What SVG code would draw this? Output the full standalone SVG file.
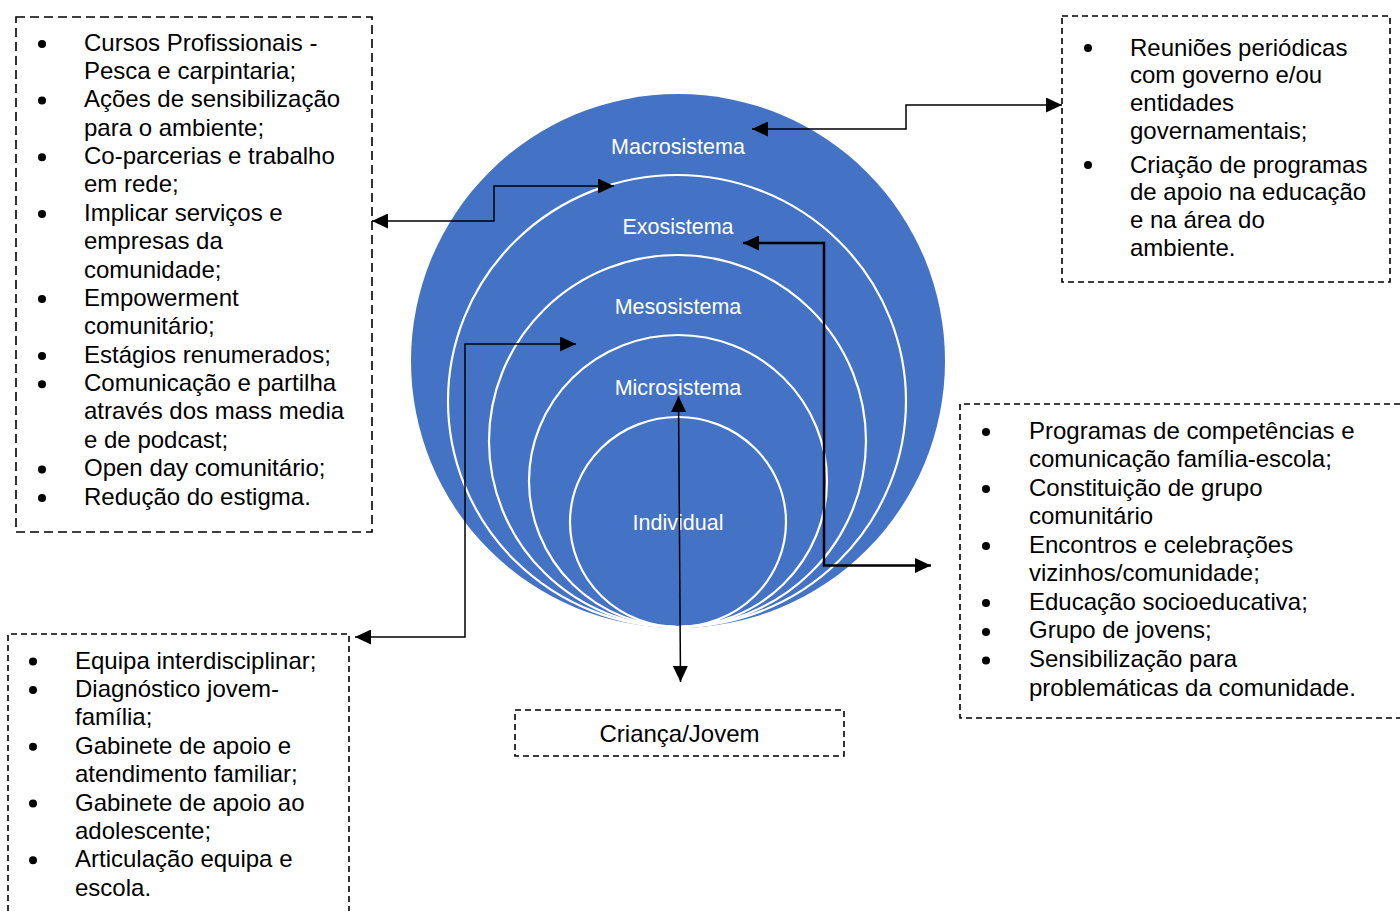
<svg xmlns="http://www.w3.org/2000/svg" width="1400" height="911" viewBox="0 0 1400 911">
<style>
.box{fill:none;stroke:#000;stroke-width:1.6;stroke-dasharray:9 5}
.t{font-family:"Liberation Sans",Arial,sans-serif;font-size:24px;fill:#000}
.lbl{font-family:"Liberation Sans",Arial,sans-serif;font-size:21.5px;fill:#fff;text-anchor:middle}
.ring{fill:none;stroke:#fff;stroke-width:2.2}
.c{fill:none;stroke:#000;stroke-width:1.5}
.c2{fill:none;stroke:#000;stroke-width:2.5}
</style>
<defs>
<marker id="ah" markerUnits="userSpaceOnUse" markerWidth="17" markerHeight="15" refX="16" refY="7.5" orient="auto-start-reverse">
<path d="M0,0 L16,7.5 L0,15 z" fill="#000"/>
</marker>
</defs>
<rect width="1400" height="911" fill="#fff"/>

<g id="circles">
<circle cx="678" cy="361" r="267" fill="#4472C4"/>
<ellipse class="ring" cx="677" cy="401" rx="229" ry="226"/>
<ellipse class="ring" cx="677.5" cy="441" rx="188.5" ry="186"/>
<ellipse class="ring" cx="678" cy="481" rx="149" ry="146"/>
<ellipse class="ring" cx="678" cy="522" rx="108" ry="105"/>
<text class="lbl" x="678" y="154">Macrosistema</text>
<text class="lbl" x="678" y="234">Exosistema</text>
<text class="lbl" x="678" y="314">Mesosistema</text>
<text class="lbl" x="678" y="395">Microsistema</text>
<text class="lbl" x="678" y="530">Individual</text>
</g>

<g id="box-exo-left">
<rect class="box" x="16" y="17" width="356" height="515"/>
<g fill="#000">
<circle cx="42" cy="44" r="4"/><circle cx="42" cy="100.5" r="4"/><circle cx="42" cy="157.3" r="4"/><circle cx="42" cy="214" r="4"/><circle cx="42" cy="299" r="4"/><circle cx="42" cy="356" r="4"/><circle cx="42" cy="384.3" r="4"/><circle cx="42" cy="469.5" r="4"/><circle cx="42" cy="498" r="4"/>
</g>
<text class="t" transform="translate(0,-1)">
<tspan x="84" y="51.5">Cursos Profissionais -</tspan>
<tspan x="84" y="79.9">Pesca e carpintaria;</tspan>
<tspan x="84" y="108.3">Ações de sensibilização</tspan>
<tspan x="84" y="136.6">para o ambiente;</tspan>
<tspan x="84" y="165">Co-parcerias e trabalho</tspan>
<tspan x="84" y="193.4">em rede;</tspan>
<tspan x="84" y="221.8">Implicar serviços e</tspan>
<tspan x="84" y="250.1">empresas da</tspan>
<tspan x="84" y="278.5">comunidade;</tspan>
<tspan x="84" y="306.9">Empowerment</tspan>
<tspan x="84" y="335.3">comunitário;</tspan>
<tspan x="84" y="363.6">Estágios renumerados;</tspan>
<tspan x="84" y="392">Comunicação e partilha</tspan>
<tspan x="84" y="420.4">através dos mass media</tspan>
<tspan x="84" y="448.8">e de podcast;</tspan>
<tspan x="84" y="477.1">Open day comunitário;</tspan>
<tspan x="84" y="505.5">Redução do estigma.</tspan>
</text>
</g>

<g id="box-macro">
<rect class="box" x="1062" y="16" width="328" height="266" style="stroke-dasharray:6 4"/>
<g fill="#000"><circle cx="1088" cy="48" r="4"/><circle cx="1088" cy="165" r="4"/></g>
<text class="t" transform="translate(0,-1)">
<tspan x="1130" y="56.5">Reuniões periódicas</tspan>
<tspan x="1130" y="84.2">com governo e/ou</tspan>
<tspan x="1130" y="111.9">entidades</tspan>
<tspan x="1130" y="139.5">governamentais;</tspan>
<tspan x="1130" y="173.5">Criação de programas</tspan>
<tspan x="1130" y="201.2">de apoio na educação</tspan>
<tspan x="1130" y="228.9">e na área do</tspan>
<tspan x="1130" y="256.5">ambiente.</tspan>
</text>
</g>

<g id="box-meso">
<path class="box" d="M1400,404 H960 V718 H1400" style="stroke-dasharray:6 4"/>
<g fill="#000"><circle cx="986" cy="432" r="4"/><circle cx="986" cy="489" r="4"/><circle cx="986" cy="546" r="4"/><circle cx="986" cy="603" r="4"/><circle cx="986" cy="632" r="4"/><circle cx="986" cy="660.5" r="4"/></g>
<text class="t" transform="translate(0,-1)">
<tspan x="1029" y="439.5">Programas de competências e</tspan>
<tspan x="1029" y="468">comunicação família-escola;</tspan>
<tspan x="1029" y="496.6">Constituição de grupo</tspan>
<tspan x="1029" y="525.1">comunitário</tspan>
<tspan x="1029" y="553.7">Encontros e celebrações</tspan>
<tspan x="1029" y="582.2">vizinhos/comunidade;</tspan>
<tspan x="1029" y="610.8">Educação socioeducativa;</tspan>
<tspan x="1029" y="639.3">Grupo de jovens;</tspan>
<tspan x="1029" y="667.9">Sensibilização para</tspan>
<tspan x="1029" y="696.5">problemáticas da comunidade.</tspan>
</text>
</g>

<g id="box-micro">
<path class="box" d="M8,911 V634 H349 V911" style="stroke-dasharray:6 4"/>
<g fill="#000"><circle cx="33" cy="661.5" r="4"/><circle cx="33" cy="690" r="4"/><circle cx="33" cy="746.7" r="4"/><circle cx="33" cy="803.5" r="4"/><circle cx="33" cy="860.3" r="4"/></g>
<text class="t" transform="translate(0,-1)">
<tspan x="75" y="669.5">Equipa interdisciplinar;</tspan>
<tspan x="75" y="697.9">Diagnóstico jovem-</tspan>
<tspan x="75" y="726.3">família;</tspan>
<tspan x="75" y="754.7">Gabinete de apoio e</tspan>
<tspan x="75" y="783.1">atendimento familiar;</tspan>
<tspan x="75" y="811.5">Gabinete de apoio ao</tspan>
<tspan x="75" y="839.9">adolescente;</tspan>
<tspan x="75" y="868.3">Articulação equipa e</tspan>
<tspan x="75" y="896.7">escola.</tspan>
</text>
</g>

<g id="box-individual">
<rect class="box" x="515" y="710" width="329" height="46" style="stroke-dasharray:6 4"/>
<text class="t" x="679.5" y="741.5" text-anchor="middle">Criança/Jovem</text>
</g>

<g id="connectors">
<path class="c" d="M752,129 H906 V105 H1062" marker-start="url(#ah)" marker-end="url(#ah)"/>
<path class="c" d="M372,221 H494 V186 H614" marker-start="url(#ah)" marker-end="url(#ah)"/>
<path class="c" d="M355,637 H465 V344 H576" marker-start="url(#ah)" marker-end="url(#ah)"/>
<path class="c2" d="M743,243 H824 V565.5 H931" marker-start="url(#ah)" marker-end="url(#ah)"/>
<path class="c" d="M678.5,396 L680.5,682" marker-start="url(#ah)" marker-end="url(#ah)"/>
</g>
</svg>
